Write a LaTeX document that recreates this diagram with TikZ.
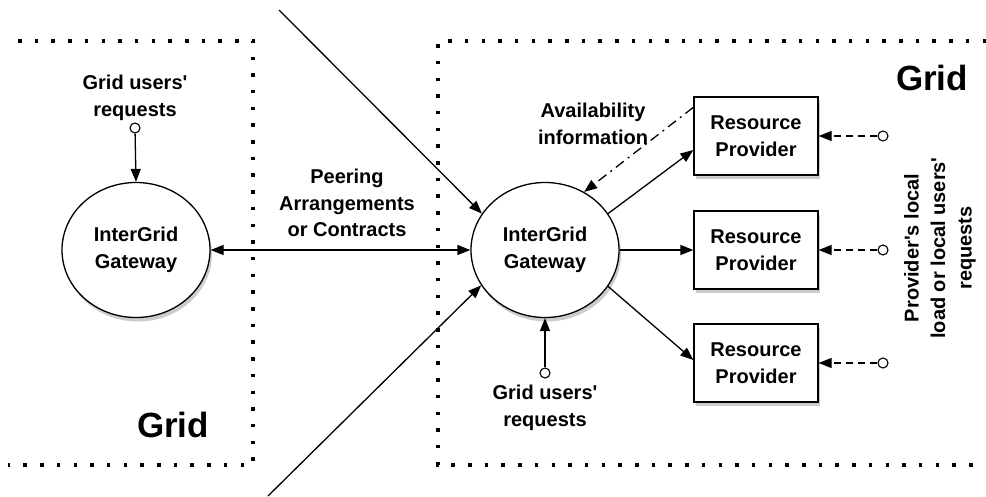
\documentclass[tikz,border=0pt]{standalone}
\usepackage{fontspec}
\setmainfont{Liberation Sans}
\usetikzlibrary{calc,shapes.geometric,shadows,arrows.meta}

\tikzset{
  gateway/.style={ellipse, draw, line width=1.3pt, fill=white, minimum width=148pt, minimum height=135pt,
    drop shadow={shadow xshift=2pt, shadow yshift=-4pt, opacity=0.4}},
  provider/.style={rectangle, draw, line width=1.3pt, fill=white, minimum width=124pt, minimum height=78pt,
    drop shadow={shadow xshift=2pt, shadow yshift=-4pt, opacity=0.4}},
  src/.style={circle, draw, line width=1.1pt, fill=white, inner sep=0pt, minimum size=10pt},
  lbl/.style={align=center, font=\bfseries\fontsize{20}{26.5}\selectfont},
  gridlbl/.style={font=\bfseries\fontsize{35}{38}\selectfont},
  conn/.style={line width=1.3pt, -{Triangle[length=13pt,width=10pt]}},
  border/.style={line width=3.5pt, dash pattern=on 3.5pt off 13.2pt},
}
\newcommand{\apos}{\textquotesingle}

\begin{document}
\begin{tikzpicture}[x=1pt, y=-1pt]
\useasboundingbox (0,0) rectangle (986,496);

\coordinate (gwleft) at (136,250);
\coordinate (gwright) at (545,250);
\coordinate (prov1) at (756,136);
\coordinate (prov2) at ($(prov1) + (0,114)$);
\coordinate (prov3) at ($(prov2) + (0,113)$);
\coordinate (far1) at (279,10);
\coordinate (far2) at (268,496);

% grid borders
\draw [border] (18,41) -- (253,41) -- (253,465) -- (8,465);
\draw [border] (986,41) -- (438,41) -- (438,465) -- (986,465);

\node (gwl) [gateway, lbl] at (gwleft) {InterGrid\\Gateway};
\node (gwr) [gateway, lbl] at (gwright) {InterGrid\\Gateway};

\node (rp1) [provider, lbl] at (prov1) {Resource\\Provider};
\node (rp2) [provider, lbl] at (prov2) {Resource\\Provider};
\node (rp3) [provider, lbl] at (prov3) {Resource\\Provider};

\node (reql) [src] at (135,128) {};
\node (reqr) [src] at (545,373) {};
\node (loc1) [src] at (883,136) {};
\node (loc2) [src] at (883,250) {};
\node (loc3) [src] at (883,363) {};

\draw [conn] (reql) -- (gwl.north);
\draw [conn] (reqr) -- (gwr.south);

\draw [line width=1.3pt, {Triangle[length=13pt,width=10pt]}-{Triangle[length=13pt,width=10pt]}] (gwl.east) -- (gwr.west);

\draw [conn] (far1) -- (gwr.150);
\draw [conn] (far2) -- (gwr.209);

\draw [conn] (gwr.30) -- ($(rp1.west) + (0,14)$);
\draw [conn] (gwr.east) -- (rp2.west);
\draw [conn] (gwr.-30) -- ($(rp3.west) + (0,-3)$);

\draw [conn, dash pattern=on 10pt off 5pt on 2pt off 5pt] ($(rp1.north west) + (0,11)$) -- (gwr.56);

\draw [conn, dash pattern=on 7pt off 5pt] (loc1) -- (rp1.east);
\draw [conn, dash pattern=on 7pt off 5pt] (loc2) -- (rp2.east);
\draw [conn, dash pattern=on 7pt off 5pt] (loc3) -- (rp3.east);

\node (reqltext) [lbl] at (135,98) {Grid users\apos\\requests};
\node (reqrtext) [lbl] at (545,408) {Grid users\apos\\requests};
\node (peer) [lbl] at (347,203) {Peering\\Arrangements\\or Contracts};
\node (avail) [lbl] at (593,124) {Availability\\information};
\node (loctext) [lbl, rotate=90] at (940,248) {Provider\apos s local\\load or local users\apos\\requests};

\node (gridl) [gridlbl] at (173,425) {Grid};
\node (gridr) [gridlbl] at (932,78) {Grid};

\end{tikzpicture}
\end{document}
